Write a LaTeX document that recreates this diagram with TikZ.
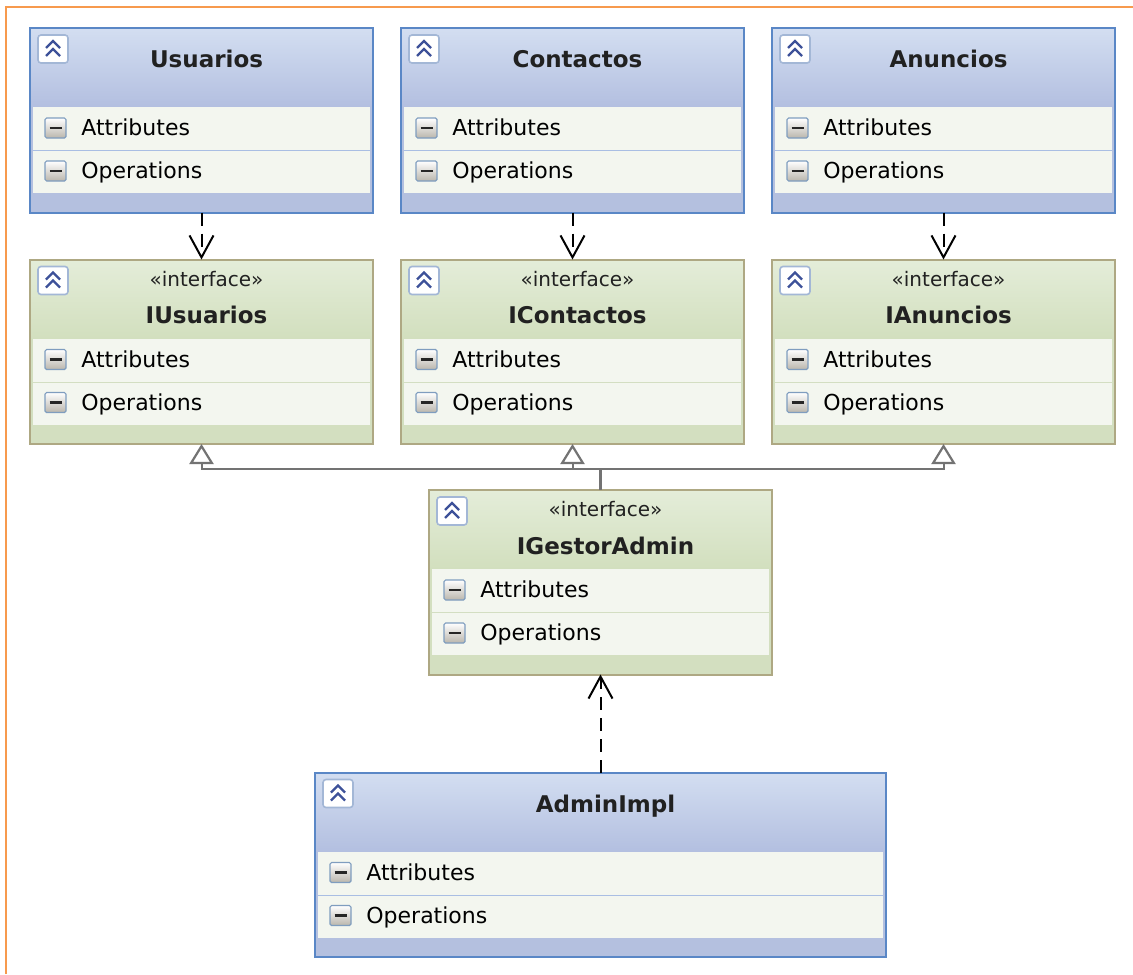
\documentclass[tikz,border=0pt]{standalone}
\usepackage{fontspec}
\setmainfont{DejaVu Sans}
\usepackage{tikz}
\usetikzlibrary{arrows.meta}
\usetikzlibrary{positioning}
\definecolor{clsborder}{HTML}{5A87C6}
\definecolor{clstop}{HTML}{D3DEF1}
\definecolor{clsbot}{HTML}{B3BFE0}
\definecolor{clsband}{HTML}{B4C0DF}
\definecolor{clssep}{HTML}{A9BEE3}
\definecolor{ifcborder}{HTML}{AEA883}
\definecolor{ifctop}{HTML}{E4EDD9}
\definecolor{ifcbot}{HTML}{D2DFBE}
\definecolor{ifcband}{HTML}{D3DFC0}
\definecolor{ifcsep}{HTML}{D3DEC2}
\definecolor{rowfill}{HTML}{F3F6EF}
\definecolor{framecol}{HTML}{F79A4D}
\definecolor{gencol}{HTML}{737373}
\definecolor{iconedge}{HTML}{7F9DBF}
\definecolor{icongray}{HTML}{BAB6AD}
\definecolor{foldedge}{HTML}{A3B7D6}
\definecolor{foldblue}{HTML}{3D5199}
\def\boxw{171.5pt}
\def\boxh{92.25pt}
\def\colsep{14pt}
\tikzset{
  box/.style={rectangle,minimum width=\boxw,minimum height=\boxh,inner sep=0,outer sep=0},
  box cls/.style={box,fill=clsband},
  box ifc/.style={box,fill=ifcband},
  head cls/.style={top color=clstop,bottom color=clsbot},
  head ifc/.style={top color=ifctop,bottom color=ifcbot},
  border cls/.style={draw=clsborder,line width=1pt},
  border ifc/.style={draw=ifcborder,line width=1pt},
  sep cls/.style={draw=clssep,line width=0.5pt},
  sep ifc/.style={draw=ifcsep,line width=0.5pt},
  row/.style={fill=rowfill},
  rowtext/.style={anchor=base west,inner sep=0,font=\fontsize{11}{13}\selectfont},
  title/.style={anchor=base,inner sep=0,text=black!87,font=\fontsize{11.5}{14}\selectfont\bfseries},
  stereo/.style={anchor=base,inner sep=0,text=black!87,font=\fontsize{10}{12}\selectfont},
  dep/.style={line width=1pt,dash pattern=on 6.5pt off 4pt,-{Straight Barb[length=11pt,width=12pt]}},
  gen/.style={draw=gencol,line width=1pt,-{Triangle[length=10pt,width=12pt,fill=white,line width=1.1pt]}},
  gen line/.style={draw=gencol,line width=1.1pt},
  minusicon/.pic={
    \draw[draw=iconedge,top color=white,bottom color=icongray,rounded corners=0.8pt,line width=0.6pt] (-5.25,-5) rectangle (5.25,5);
    \draw[line width=1.2pt,black!85] (-3,0) -- (3,0);
  },
  foldicon/.pic={
    \draw[draw=foldedge,fill=white,rounded corners=1.5pt,line width=0.8pt] (-7.5,-7) rectangle (7.5,7);
    \draw[foldblue,line width=1.1pt] (-3.5,-0.5) -- (0,-4) -- (3.5,-0.5) (-3.5,3.5) -- (0,0) -- (3.5,3.5);
  }
}

\begin{document}
\begin{tikzpicture}[x=1pt,y=-1pt]
	\useasboundingbox (0,0) rectangle (566.5,487);

	% Boundary
	\draw[framecol,line width=1pt] (3,487) -- (3,3.5) -- (566.5,3.5);

	\node[box cls, anchor=north west] (usuarios) at (15,14) {};
	\node[box cls, right=\colsep of usuarios] (contactos) {};
	\node[box cls, right=\colsep of contactos] (anuncios) {};

	\node[box ifc, below=23.5pt of usuarios] (iusuarios) {};
	\node[box ifc, below=23.5pt of contactos] (icontactos) {};
	\node[box ifc, below=23.5pt of anuncios] (ianuncios) {};

	\node[box ifc, below=23pt of icontactos, xshift=14pt] (igestor) {};
	\node[box cls, below=49pt of igestor, minimum width=285.5pt] (adminimpl) {};

	\foreach \n/\k/\t/\ty in {usuarios/cls/Usuarios/19.8, contactos/cls/Contactos/19.8, anuncios/cls/Anuncios/19.8,
			iusuarios/ifc/IUsuarios/32, icontactos/ifc/IContactos/32, ianuncios/ifc/IAnuncios/32,
			igestor/ifc/IGestorAdmin/32, adminimpl/cls/AdminImpl/19.8}{
			\path[head \k] (\n.north west) rectangle ([yshift=-39.5pt]\n.north east);
			\path[row] ([xshift=1.5pt,yshift=-39.5pt]\n.north west) rectangle ([xshift=-1.5pt,yshift=-61pt]\n.north east);
			\path[row] ([xshift=1.5pt,yshift=-61.5pt]\n.north west) rectangle ([xshift=-1.5pt,yshift=-82.5pt]\n.north east);
			\draw[sep \k] ([xshift=1.5pt,yshift=-61.25pt]\n.north west) -- ([xshift=-1.5pt,yshift=-61.25pt]\n.north east);
			\pic at ([xshift=11.5pt,yshift=-10.5pt]\n.north west) {foldicon};
			\pic at ([xshift=12.75pt,yshift=-50pt]\n.north west) {minusicon};
			\pic at ([xshift=12.75pt,yshift=-71.5pt]\n.north west) {minusicon};
			\node[rowtext] at ([xshift=25.5pt,yshift=-53.8pt]\n.north west) {Attributes};
			\node[rowtext] at ([xshift=25.5pt,yshift=-75.3pt]\n.north west) {Operations};
			\node[title] at ([xshift=2.5pt,yshift=-\ty pt]\n.north) {\t};
			\draw[border \k] (\n.north west) rectangle (\n.south east);
		}

	\foreach \n in {iusuarios,icontactos,ianuncios,igestor}
	\node[stereo] at ([xshift=2.5pt,yshift=-13.4pt]\n.north) {«interface»};

	\draw[dep] (usuarios.south) -- (iusuarios.north);
	\draw[dep] (contactos.south) -- (icontactos.north);
	\draw[dep] (anuncios.south) -- (ianuncios.north);
	\draw[dep] (adminimpl.north) -- (igestor.south);

	\coordinate (junc) at ([yshift=10.5pt]igestor.north);
	\draw[gen line] (igestor.north) -- (junc);
	\foreach \dest in {iusuarios,icontactos,ianuncios}
	\draw[gen] (junc) -| (\dest.south);
\end{tikzpicture}
\end{document}
